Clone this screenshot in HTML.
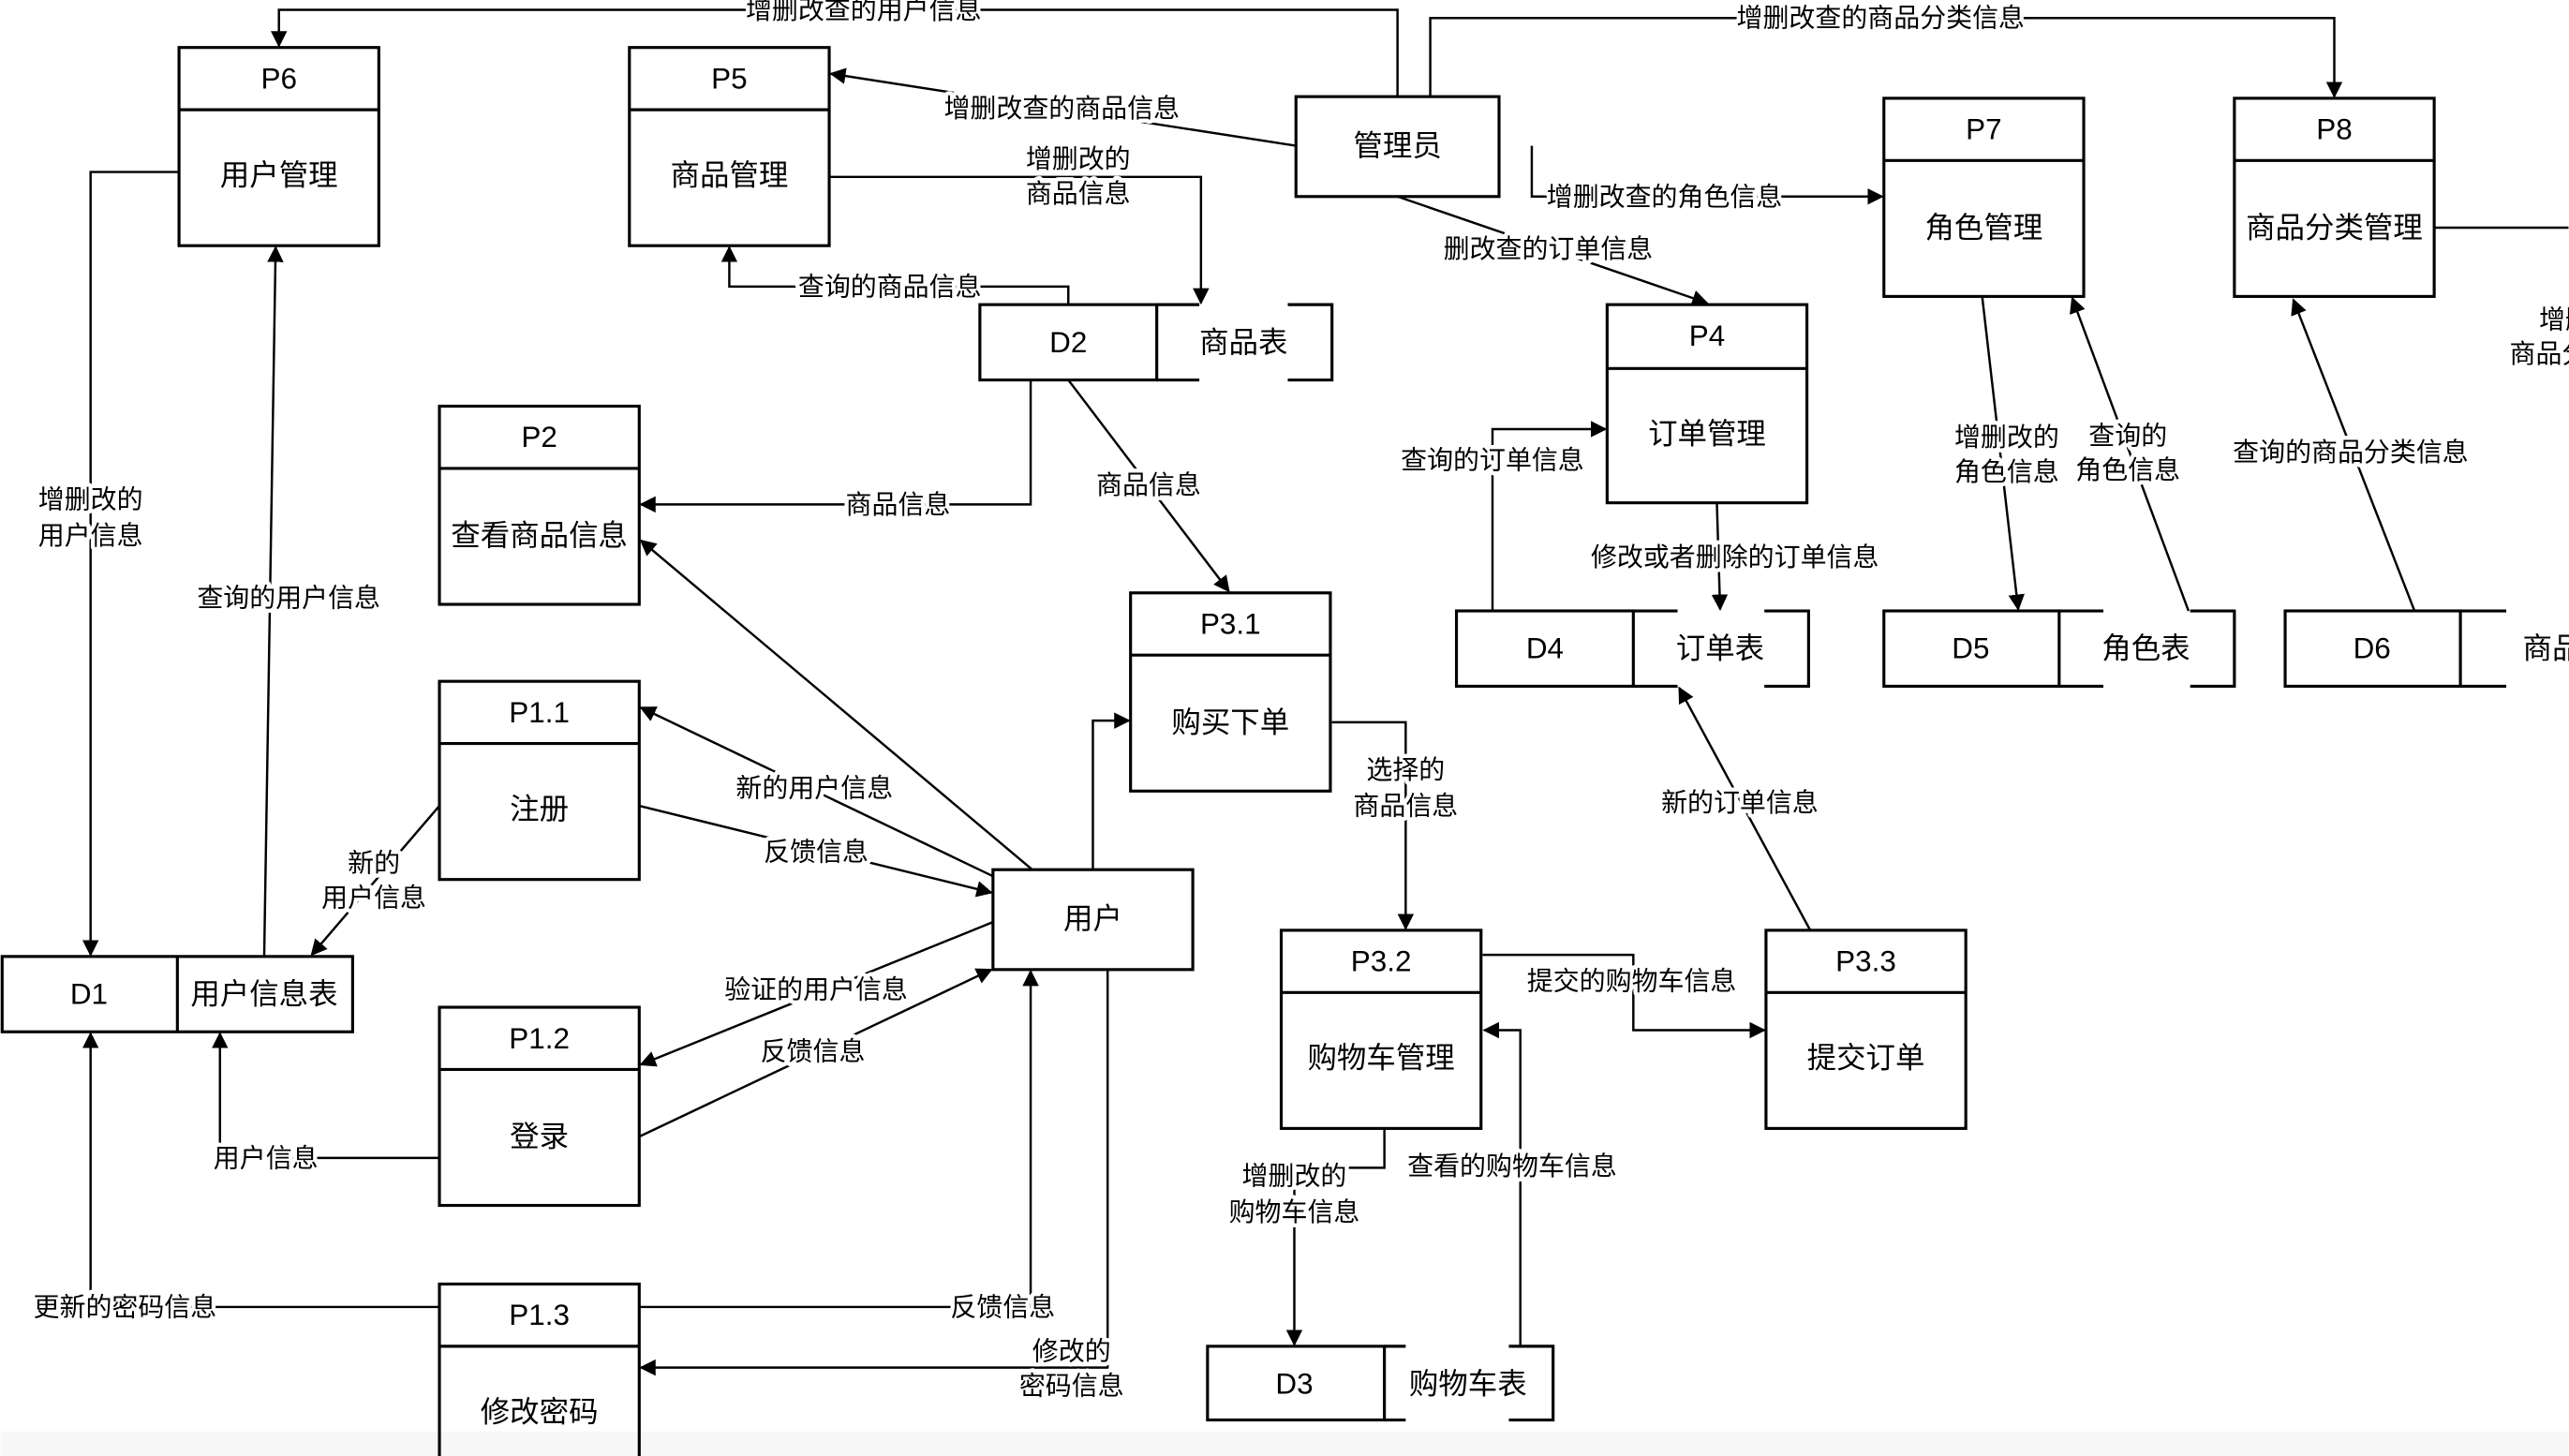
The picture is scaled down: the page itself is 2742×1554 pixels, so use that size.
<!DOCTYPE html>
<html><head><meta charset="utf-8"><style>
html,body{margin:0;padding:0;background:#fff;}
svg{display:block;}
text{font-family:"Liberation Sans","Noto Sans CJK SC",sans-serif;fill:#000;}
.n{font-size:18px;text-anchor:middle;dominant-baseline:central;}
.l{font-size:16px;text-anchor:middle;dominant-baseline:central;stroke:#fff;stroke-width:5px;paint-order:stroke;stroke-linejoin:round;}
.b{fill:none;stroke:#000;stroke-width:1.8;}
.c{fill:none;stroke:#000;stroke-width:1.4;}
</style></head><body>
<svg width="2742" height="1554" viewBox="0 0 1568 889" xmlns="http://www.w3.org/2000/svg">
<defs><marker id="a" markerWidth="10" markerHeight="10" refX="9" refY="5" orient="auto" markerUnits="userSpaceOnUse"><path d="M0,0 L10,5 L0,10 z" fill="#000"/></marker></defs>
<rect x="0" y="874" width="1568" height="15" fill="#f7f7f7"/>
<g class="c" marker-end="url(#a)">
<path d="M853,59 V6 H170 V28"/>
<path d="M873,59 V11 H1425 V59"/>
<path d="M791,89 L507,45"/>
<path d="M935,89 V120 H1149"/>
<path d="M853,120 L1042,185"/>
<path d="M506,108 H733 V185"/>
<path d="M652,186 V175 H445 V151"/>
<path d="M629,232 V308 H391"/>
<path d="M652,232 L750,361"/>
<path d="M630,531 L391,330"/>
<path d="M606,535 L391,432"/>
<path d="M390,492 L605,545"/>
<path d="M606,563 L391,650"/>
<path d="M390,694 L605,592"/>
<path d="M390,798 H629 V593"/>
<path d="M676,592 V835 H391"/>
<path d="M667,531 V440 H689"/>
<path d="M813,441 H858 V567"/>
<path d="M905,583 H997 V629 H1077"/>
<path d="M1105,568 L1025,420"/>
<path d="M845,689 V713 H790 V821"/>
<path d="M928,822 V629 H906"/>
<path d="M911,373 V262 H980"/>
<path d="M1048,307 L1050,372"/>
<path d="M1210,181 L1232,372"/>
<path d="M1336,373 L1265,182"/>
<path d="M1474,373 L1400,183"/>
<path d="M109,105 H55 V583"/>
<path d="M161,584 L168,151"/>
<path d="M268,492 L190,583"/>
<path d="M268,707 H134 V631"/>
<path d="M268,798 H55 V631"/>
</g>
<path class="c" d="M1486,139 H1568"/>
<g class="b">
<rect x="109" y="29" width="122" height="121"/><line x1="109" y1="67" x2="231" y2="67"/>
<rect x="384" y="29" width="122" height="121"/><line x1="384" y1="67" x2="506" y2="67"/>
<rect x="791" y="59" width="124" height="61"/>
<rect x="1150" y="60" width="122" height="121"/><line x1="1150" y1="98" x2="1272" y2="98"/>
<rect x="1364" y="60" width="122" height="121"/><line x1="1364" y1="98" x2="1486" y2="98"/>
<rect x="981" y="186" width="122" height="121"/><line x1="981" y1="225" x2="1103" y2="225"/>
<rect x="268" y="248" width="122" height="121"/><line x1="268" y1="286" x2="390" y2="286"/>
<rect x="690" y="362" width="122" height="121"/><line x1="690" y1="400" x2="812" y2="400"/>
<rect x="268" y="416" width="122" height="121"/><line x1="268" y1="454" x2="390" y2="454"/>
<rect x="606" y="531" width="122" height="61"/>
<rect x="782" y="568" width="122" height="121"/><line x1="782" y1="606" x2="904" y2="606"/>
<rect x="1078" y="568" width="122" height="121"/><line x1="1078" y1="606" x2="1200" y2="606"/>
<rect x="268" y="615" width="122" height="121"/><line x1="268" y1="653" x2="390" y2="653"/>
<rect x="268" y="784" width="122" height="120"/><line x1="268" y1="822" x2="390" y2="822"/>
<rect x="1" y="584" width="214" height="46"/><line x1="108" y1="584" x2="108" y2="630"/>
<rect x="598" y="186" width="108" height="46"/><path d="M706,186 H732 M786,186 H813 V232 H786 M732,232 H706"/>
<rect x="889" y="373" width="108" height="46"/><path d="M997,373 H1024 M1077,373 H1104 V419 H1077 M1024,419 H997"/>
<rect x="1150" y="373" width="107" height="46"/><path d="M1257,373 H1284 M1337,373 H1364 V419 H1337 M1284,419 H1257"/>
<rect x="1395" y="373" width="107" height="46"/><path d="M1502,373 H1530 M1502,419 H1530"/>
<rect x="737" y="822" width="108" height="45"/><path d="M845,822 H858 M921,822 H948 V867 H921 M858,867 H845"/>
</g>
<g class="n">
<text x="170" y="48">P6</text><text x="170" y="107">用户管理</text>
<text x="445" y="48">P5</text><text x="445" y="107">商品管理</text>
<text x="853" y="89">管理员</text>
<text x="1211" y="79">P7</text><text x="1211" y="139">角色管理</text>
<text x="1425" y="79">P8</text><text x="1425" y="139">商品分类管理</text>
<text x="1042" y="205">P4</text><text x="1042" y="265">订单管理</text>
<text x="329" y="267">P2</text><text x="329" y="327">查看商品信息</text>
<text x="751" y="381">P3.1</text><text x="751" y="441">购买下单</text>
<text x="329" y="435">P1.1</text><text x="329" y="494">注册</text>
<text x="667" y="561">用户</text>
<text x="843" y="587">P3.2</text><text x="843" y="646">购物车管理</text>
<text x="1139" y="587">P3.3</text><text x="1139" y="646">提交订单</text>
<text x="329" y="634">P1.2</text><text x="329" y="694">登录</text>
<text x="329" y="803">P1.3</text><text x="329" y="862">修改密码</text>
<text x="54" y="607">D1</text><text x="161" y="607">用户信息表</text>
<text x="652" y="209">D2</text><text x="759" y="209">商品表</text>
<text x="943" y="396">D4</text><text x="1050" y="396">订单表</text>
<text x="1203" y="396">D5</text><text x="1310" y="396">角色表</text>
<text x="1448" y="396">D6</text><text x="1540" y="396" style="text-anchor:start" x="1510">商品分类表</text>
<text x="790" y="845">D3</text><text x="896" y="845">购物车表</text>
</g>
<g class="l">
<text x="527" y="6">增删改查的用户信息</text>
<text x="1148" y="11">增删改查的商品分类信息</text>
<text x="648" y="66">增删改查的商品信息</text>
<text x="1016" y="120">增删改查的角色信息</text>
<text x="945" y="152">删改查的订单信息</text>
<text x="658" y="97">增删改的</text><text x="658" y="118">商品信息</text>
<text x="543" y="175">查询的商品信息</text>
<text x="548" y="308">商品信息</text>
<text x="701" y="296">商品信息</text>
<text x="497" y="481">新的用户信息</text>
<text x="498" y="520">反馈信息</text>
<text x="498" y="604">验证的用户信息</text>
<text x="496" y="642">反馈信息</text>
<text x="612" y="798">反馈信息</text>
<text x="654" y="825">修改的</text><text x="654" y="846">密码信息</text>
<text x="858" y="470">选择的</text><text x="858" y="492">商品信息</text>
<text x="996" y="599">提交的购物车信息</text>
<text x="1062" y="490">新的订单信息</text>
<text x="790" y="718">增删改的</text><text x="790" y="740">购物车信息</text>
<text x="923" y="712">查看的购物车信息</text>
<text x="911" y="281">查询的订单信息</text>
<text x="1059" y="340">修改或者删除的订单信息</text>
<text x="1225" y="267">增删改的</text><text x="1225" y="288">角色信息</text>
<text x="1299" y="266">查询的</text><text x="1299" y="287">角色信息</text>
<text x="1435" y="276">查询的商品分类信息</text>
<text x="1550" y="195" style="text-anchor:start">增删改的</text><text x="1532" y="216" style="text-anchor:start">商品分类信息</text>
<text x="55" y="305">增删改的</text><text x="55" y="327">用户信息</text>
<text x="176" y="365">查询的用户信息</text>
<text x="228" y="527">新的</text><text x="228" y="548">用户信息</text>
<text x="162" y="707">用户信息</text>
<text x="76" y="798">更新的密码信息</text>
</g>
</svg>
</body></html>
